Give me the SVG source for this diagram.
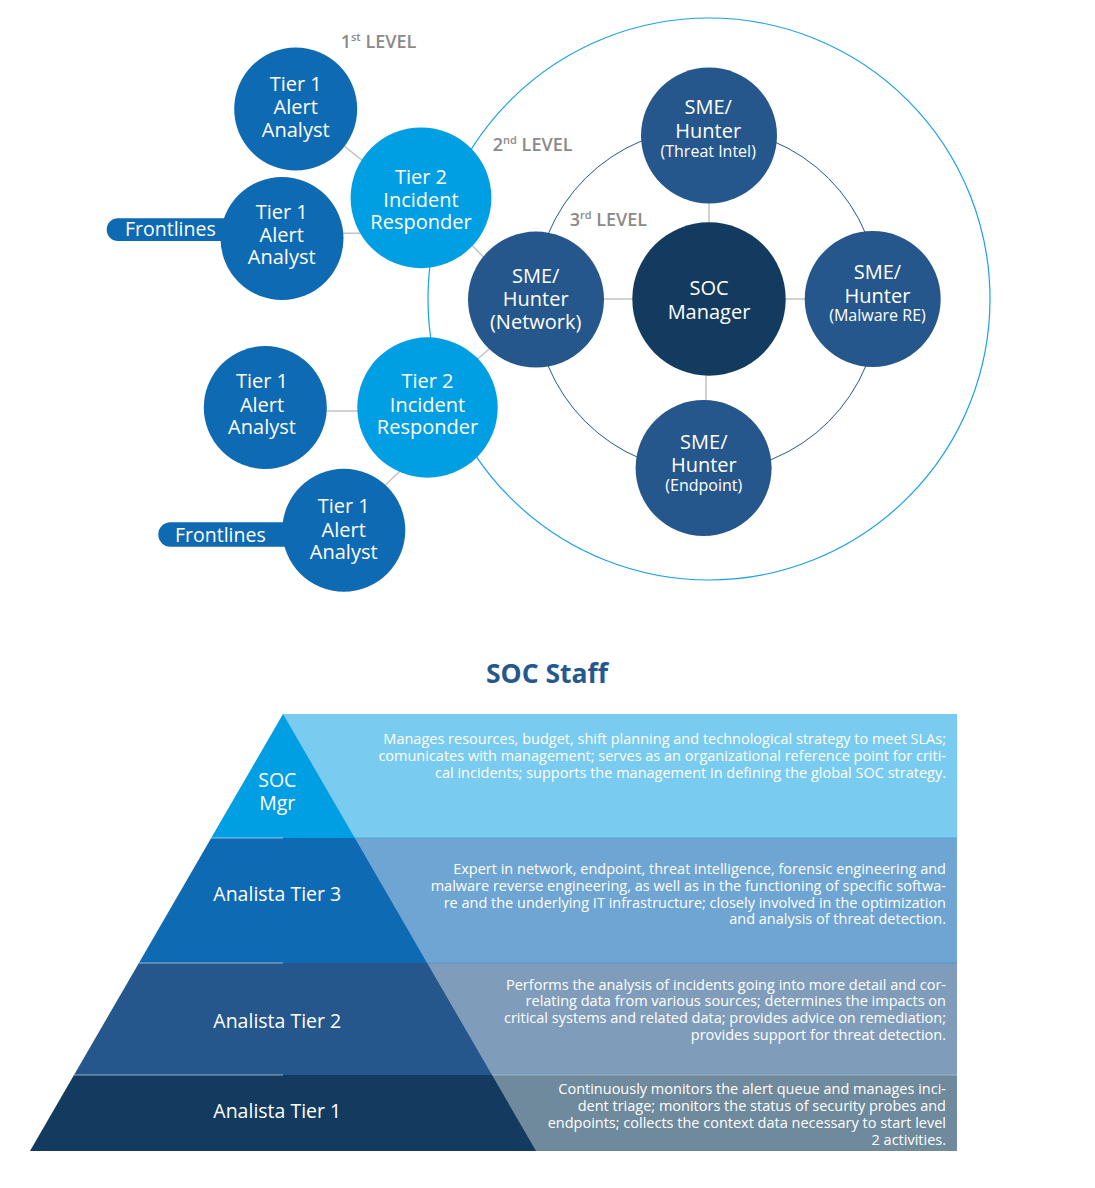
<svg xmlns="http://www.w3.org/2000/svg" width="1095" height="1188" viewBox="0 0 1095 1188">
<style>
text{font-family:"Open Sans","Noto Sans","Liberation Sans",sans-serif;}
.nt{fill:#ffffff;font-size:20px;text-anchor:middle;font-weight:500;}
.ns{fill:#ffffff;font-size:16px;text-anchor:middle;font-weight:500;}
.lvl{fill:#8a8a8a;font-size:18px;font-weight:600;}
.t1{fill:#0e6ab3;}
.t2{fill:#009fe3;}
.sme{fill:#26578c;}
.mgr{fill:#133b5f;}
.conn{stroke:#c2c2c2;stroke-width:1.5;fill:none;}
.pl{fill:#ffffff;font-size:19.5px;text-anchor:middle;font-weight:500;}
.desc{fill:#ffffff;font-size:14.5px;text-anchor:end;}
</style>
<rect x="0" y="0" width="1095" height="1188" fill="#ffffff"/>

<!-- rings -->
<g id="rings">
<circle cx="709" cy="299" r="281" fill="none" stroke="#1aa0e6" stroke-width="1.2"/>
<circle cx="707" cy="300" r="172" fill="none" stroke="#26578c" stroke-width="1"/>
</g>

<!-- connectors -->
<g id="connectors">
<line class="conn" x1="335" y1="138.7" x2="371" y2="167.5"/>
<line class="conn" x1="330" y1="233.3" x2="365" y2="233.3"/>
<line class="conn" x1="462" y1="235" x2="495" y2="269"/>
<line class="conn" x1="310" y1="411" x2="375" y2="411"/>
<line class="conn" x1="375" y1="494.7" x2="410" y2="461.7"/>
<line class="conn" x1="465" y1="370" x2="500" y2="339.5"/>
<line class="conn" x1="709" y1="160" x2="709" y2="250"/>
<line class="conn" x1="706" y1="340" x2="706" y2="440"/>
<line class="conn" x1="570" y1="299" x2="660" y2="299"/>
<line class="conn" x1="760" y1="299" x2="840" y2="299"/>
</g>

<!-- level labels -->
<g id="levels">
<text class="lvl" x="340.7" y="48">1<tspan font-size="11" dy="-7">st</tspan><tspan dy="7"> LEVEL</tspan></text>
<text class="lvl" x="492.8" y="151.2">2<tspan font-size="11" dy="-7">nd</tspan><tspan dy="7"> LEVEL</tspan></text>
<text class="lvl" x="569.7" y="226.2">3<tspan font-size="11" dy="-7">rd</tspan><tspan dy="7"> LEVEL</tspan></text>
</g>

<!-- frontlines pills -->
<g id="frontlines-1">
<rect x="106.7" y="218.3" width="150" height="22.7" rx="11.35" class="t1"/>
<text x="125" y="236" fill="#ffffff" font-size="19.5" font-weight="500">Frontlines</text>
</g>
<g id="frontlines-2">
<rect x="158.3" y="522.3" width="150" height="24.4" rx="12.2" class="t1"/>
<text x="175" y="541.7" fill="#ffffff" font-size="19.5" font-weight="500">Frontlines</text>
</g>

<!-- Tier 1 nodes -->
<g id="tier1-a">
<circle cx="295.7" cy="109" r="61.5" class="t1"/>
<text class="nt" x="295.7" y="91">Tier 1</text>
<text class="nt" x="295.7" y="114">Alert</text>
<text class="nt" x="295.7" y="137">Analyst</text>
</g>
<g id="tier1-b">
<circle cx="282" cy="238.5" r="61.5" class="t1"/>
<text class="nt" x="281.7" y="219.3">Tier 1</text>
<text class="nt" x="281.7" y="241.7">Alert</text>
<text class="nt" x="281.7" y="264.3">Analyst</text>
</g>
<g id="tier1-c">
<circle cx="265.3" cy="407.5" r="61.5" class="t1"/>
<text class="nt" x="262" y="388.3">Tier 1</text>
<text class="nt" x="262" y="411.7">Alert</text>
<text class="nt" x="262" y="434.3">Analyst</text>
</g>
<g id="tier1-d">
<circle cx="343.8" cy="530.3" r="61.5" class="t1"/>
<text class="nt" x="343.7" y="513.3">Tier 1</text>
<text class="nt" x="343.7" y="536.7">Alert</text>
<text class="nt" x="343.7" y="559.3">Analyst</text>
</g>

<!-- Tier 2 nodes -->
<g id="tier2-a">
<circle cx="421" cy="197.8" r="70.4" class="t2"/>
<text class="nt" x="421" y="184">Tier 2</text>
<text class="nt" x="421" y="206.7">Incident</text>
<text class="nt" x="421" y="229.3">Responder</text>
</g>
<g id="tier2-b">
<circle cx="427.5" cy="407.5" r="70.2" class="t2"/>
<text class="nt" x="427.5" y="388.3">Tier 2</text>
<text class="nt" x="427.5" y="411.7">Incident</text>
<text class="nt" x="427.5" y="434.3">Responder</text>
</g>

<!-- SME nodes -->
<g id="sme-threat-intel">
<circle cx="709" cy="135.5" r="68" class="sme"/>
<text class="nt" x="708.2" y="114.2">SME/</text>
<text class="nt" x="708.2" y="137.5">Hunter</text>
<text class="ns" x="708.2" y="156.7">(Threat Intel)</text>
</g>
<g id="sme-network">
<circle cx="536" cy="299.6" r="68" class="sme"/>
<text class="nt" x="535.7" y="283">SME/</text>
<text class="nt" x="535.7" y="306.4">Hunter</text>
<text class="nt" x="535.7" y="328.6">(Network)</text>
</g>
<g id="sme-malware">
<circle cx="872.7" cy="299" r="68" class="sme"/>
<text class="nt" x="877.5" y="278.7">SME/</text>
<text class="nt" x="877.5" y="302.7">Hunter</text>
<text class="ns" x="877.5" y="321.2">(Malware RE)</text>
</g>
<g id="sme-endpoint">
<circle cx="703.6" cy="468" r="68" class="sme"/>
<text class="nt" x="703.8" y="448.7">SME/</text>
<text class="nt" x="703.8" y="471.6">Hunter</text>
<text class="ns" x="703.8" y="491.2">(Endpoint)</text>
</g>

<!-- SOC Manager -->
<g id="soc-manager">
<circle cx="709" cy="299" r="76.7" class="mgr"/>
<text class="nt" x="709" y="295.3">SOC</text>
<text class="nt" x="709" y="318.6">Manager</text>
</g>

<!-- SOC Staff title -->
<text x="547" y="683" fill="#24588e" font-size="26.5" font-weight="bold" text-anchor="middle">SOC Staff</text>

<!-- Pyramid -->
<g id="panels">
<rect x="283" y="714" width="674" height="124" fill="#79cbef"/>
<rect x="283" y="838" width="674" height="125" fill="#6ea5d2"/>
<rect x="283" y="963" width="674" height="112" fill="#7f9dbb"/>
<rect x="283" y="1075" width="674" height="76" fill="#6f8a9d"/>
<line x1="283" y1="838" x2="957" y2="838" stroke="#56a3d9" stroke-width="1"/>
<line x1="283" y1="963" x2="957" y2="963" stroke="#5f92c4" stroke-width="1"/>
<line x1="283" y1="1075" x2="957" y2="1075" stroke="#9fb3c6" stroke-width="1"/>
</g>
<g id="pyramid-soc-mgr">
<polygon points="283,714 354.8,838 211.2,838" fill="#009fe3"/>
<text class="pl" x="277.3" y="786.7">SOC</text>
<text class="pl" x="277.3" y="810">Mgr</text>
</g>
<g id="pyramid-tier3">
<polygon points="211.2,838 354.8,838 427.1,963 138.9,963" fill="#0e6ab3"/>
<text class="pl" x="277.3" y="900.5">Analista Tier 3</text>
</g>
<g id="pyramid-tier2">
<polygon points="138.9,963 427.1,963 492,1075 74,1075" fill="#26578c"/>
<text class="pl" x="277.3" y="1028">Analista Tier 2</text>
</g>
<g id="pyramid-tier1">
<polygon points="74,1075 492,1075 536,1151 30,1151" fill="#133b5f"/>
<text class="pl" x="277.3" y="1118">Analista Tier 1</text>
</g>
<g id="pyramid-lines" stroke="#ffffff" stroke-opacity="0.55" stroke-width="1">
<line x1="211.2" y1="838" x2="283" y2="838"/>
<line x1="138.9" y1="963" x2="283" y2="963"/>
<line x1="74" y1="1075" x2="283" y2="1075"/>
</g>

<g id="descriptions">
<text class="desc" x="946" y="744">Manages resources, budget, shift planning and technological strategy to meet SLAs;</text>
<text class="desc" x="946" y="761">comunicates with management; serves as an organizational reference point for criti-</text>
<text class="desc" x="946" y="778">cal incidents; supports the management in defining the global SOC strategy.</text>

<text class="desc" x="946" y="874">Expert in network, endpoint, threat intelligence, forensic engineering and</text>
<text class="desc" x="946" y="891">malware reverse engineering, as well as in the functioning of specific softwa-</text>
<text class="desc" x="946" y="908">re and the underlying IT infrastructure; closely involved in the optimization</text>
<text class="desc" x="946" y="924">and analysis of threat detection.</text>

<text class="desc" x="946" y="990">Performs the analysis of incidents going into more detail and cor-</text>
<text class="desc" x="946" y="1006">relating data from various sources; determines the impacts on</text>
<text class="desc" x="946" y="1023">critical systems and related data; provides advice on remediation;</text>
<text class="desc" x="946" y="1040">provides support for threat detection.</text>

<text class="desc" x="946" y="1094">Continuously monitors the alert queue and manages inci-</text>
<text class="desc" x="946" y="1111">dent triage; monitors the status of security probes and</text>
<text class="desc" x="946" y="1128">endpoints; collects the context data necessary to start level</text>
<text class="desc" x="946" y="1145">2 activities.</text>
</g>
</svg>
